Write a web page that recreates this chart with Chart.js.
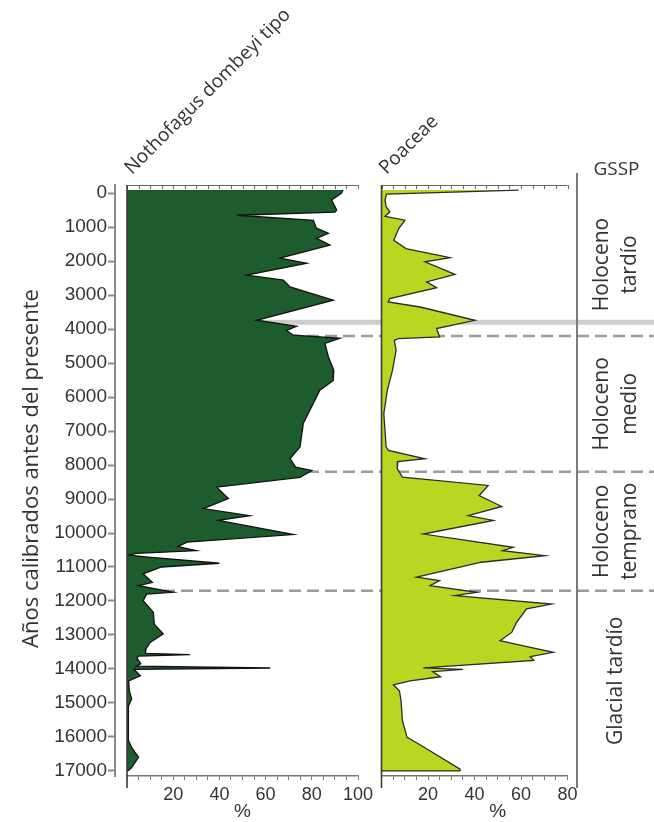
<!DOCTYPE html>
<html>
<head>
<meta charset="utf-8">
<title>Diagrama polínico</title>
<script src="https://cdn.jsdelivr.net/npm/chart.js@4/dist/chart.umd.min.js"></script>
<style>
  html, body { margin: 0; padding: 0; background: #ffffff; }
  canvas { display: block; }
</style>
</head>
<body>
<canvas id="diagram" width="654" height="822"></canvas>
<script>
// Calibrated ages (years BP) and pollen percentages for each taxon
const nothoAge = [-90, 0, 200, 500, 560, 650, 800, 1030, 1180, 1330, 1530, 1915, 2060, 2415, 2560, 2760, 3150, 3740, 3920, 4040, 4180, 4270, 4420, 4820, 5210, 5510, 5800, 6780, 7470, 7810, 8060, 8160, 8360, 8650, 8985, 9280, 9490, 9630, 10045, 10270, 10400, 10520, 10600, 10650, 10700, 10890, 11000, 11200, 11450, 11550, 11745, 11800, 11990, 12330, 12680, 12970, 13220, 13410, 13540, 13580, 13620, 13680, 13850, 13920, 13972, 14010, 14200, 14350, 14640, 14880, 15100, 16100, 16310, 16600, 16900, 17000];
const nothoPct = [93.5, 92.9, 88.6, 90.8, 90, 47.5, 80.7, 82, 87.2, 82.1, 87.9, 66.2, 77.8, 51.8, 67.7, 70.6, 89.3, 56.1, 73.4, 69.1, 72, 92.2, 85.7, 87.2, 89.5, 89.3, 83.5, 76.3, 74.9, 70.6, 73, 80, 74.9, 38.8, 43.9, 33, 53.2, 39.5, 72, 26, 22, 30, 4, 1, 8, 40, 15, 7, 11, 5, 20, 8.5, 7, 11.4, 11.8, 15.7, 10, 8.2, 8, 27.3, 5, 4.3, 6, 4, 62, 3, 5.8, 0.7, 1, 2, 0.6, 0.6, 2, 5, 2, 0.5];

const poaAge = [-90, 30, 200, 400, 550, 680, 795, 1040, 1385, 1630, 1900, 2020, 2390, 2610, 2780, 3100, 3200, 3350, 3740, 3985, 4230, 4280, 4330, 4625, 5215, 5800, 6490, 7470, 7570, 7815, 7900, 8110, 8357, 8600, 8900, 9220, 9490, 9630, 10030, 10420, 10520, 10665, 10860, 11300, 11400, 11550, 11745, 11840, 12090, 12235, 12630, 12925, 13170, 13365, 13510, 13640, 13750, 13970, 14010, 14080, 14230, 14350, 14465, 14640, 14935, 15525, 16015, 16210, 16950, 17000];
const poaPct = [59, 2.2, 1.5, 2, 3.6, 1.5, 10.1, 7.4, 5.3, 10.5, 29.5, 18.7, 31.6, 19.4, 23.7, 3.6, 2.9, 16.6, 40.2, 23.7, 25, 7.2, 5.5, 6.3, 4.7, 2.5, 1, 2, 3, 18.7, 7, 6.8, 9, 45.9, 42, 51.7, 37.3, 48.1, 18, 56.7, 52, 70.3, 43, 15.1, 25, 20.9, 41, 31.6, 73.2, 62.4, 58.1, 56, 51, 64, 73.9, 64, 65.5, 18, 35, 22, 25.4, 12.3, 5.1, 7.7, 8.4, 9, 11, 16, 33.8, 33.8];

// Axis ticks
const ageTicks = [0, 1000, 2000, 3000, 4000, 5000, 6000, 7000, 8000, 9000, 10000, 11000, 12000, 13000, 14000, 15000, 16000, 17000];
const nothoTicks = [0, 5, 10, 15, 20, 25, 30, 35, 40, 45, 50, 55, 60, 65, 70, 75, 80, 85, 90, 95, 100];
const nothoLabelled = [20, 40, 60, 80, 100];
const poaTicks = [0, 5, 10, 15, 20, 25, 30, 35, 40, 45, 50, 55, 60, 65, 70, 75, 80];
const poaLabelled = [20, 40, 60, 80];

// Chronozones and the tephra layer
const zoneEdges = [0, 4200, 8200, 11700, 17000];
const zoneNames = [['Holoceno', 'tardío'], ['Holoceno', 'medio'], ['Holoceno', 'temprano'], ['Glacial tardío']];
const tephraAge = 3800;

const taxa = ['Nothofagus dombeyi tipo', 'Poaceae'];

const SANS = '"Open Sans", "Liberation Sans", sans-serif';
const TICKFONT = '"Liberation Sans", Arial, sans-serif';
const INK = '#333333';

function pts(ages, vals) {
  return ages.map((a, i) => ({ x: vals[i], y: a }));
}

function fixedTicks(list) {
  return (scale) => { scale.ticks = list.map(v => ({ value: v })); };
}

function bottomFit(scale) {
  scale.height = 46;
  scale.paddingLeft = 0;
  scale.paddingRight = 0;
}

const decor = {
  id: 'decor',
  beforeDatasetsDraw(chart) {
    const { ctx, scales } = chart;
    const y = scales.y;
    const x0 = scales.xN.getPixelForValue(0);
    ctx.save();
    // tephra layer
    ctx.strokeStyle = '#cdcdcd';
    ctx.lineWidth = 5;
    const yt = y.getPixelForValue(tephraAge);
    ctx.beginPath();
    ctx.moveTo(x0, yt);
    ctx.lineTo(chart.width, yt);
    ctx.stroke();
    // chronozone boundaries
    ctx.strokeStyle = '#9b9b9b';
    ctx.lineWidth = 2.5;
    ctx.setLineDash([12, 6]);
    zoneEdges.slice(1, -1).forEach(a => {
      const yy = y.getPixelForValue(a);
      ctx.beginPath();
      ctx.moveTo(x0, yy);
      ctx.lineTo(chart.width, yy);
      ctx.stroke();
    });
    ctx.restore();
  },
  afterDatasetsDraw(chart) {
    const { ctx, chartArea, scales } = chart;
    const y = scales.y;
    const panels = [[scales.xN, nothoTicks], [scales.xP, poaTicks]];
    ctx.save();

    // closing edge along the oldest sample of each curve
    chart.data.datasets.forEach((ds, i) => {
      const s = panels[i][0];
      const last = ds.data[ds.data.length - 1];
      const yy = y.getPixelForValue(last.y);
      ctx.strokeStyle = ds.borderColor;
      ctx.lineWidth = ds.borderWidth;
      ctx.beginPath();
      ctx.moveTo(s.getPixelForValue(0), yy);
      ctx.lineTo(s.getPixelForValue(last.x), yy);
      ctx.stroke();
    });

    // top rulers and panel baselines
    panels.forEach(([s, ticks]) => {
      const top = chartArea.top;
      ctx.strokeStyle = '#666';
      ctx.lineWidth = 1;
      ctx.beginPath();
      ctx.moveTo(s.left, top + 0.5);
      ctx.lineTo(s.right, top + 0.5);
      ticks.forEach(v => {
        const px = Math.round(s.getPixelForValue(v)) + 0.5;
        ctx.moveTo(px, top);
        ctx.lineTo(px, top + 4);
      });
      ctx.stroke();

      const bx = s.getPixelForValue(0);
      ctx.strokeStyle = '#3c3c3c';
      ctx.lineWidth = 1.6;
      ctx.beginPath();
      ctx.moveTo(bx, top);
      ctx.lineTo(bx, chartArea.bottom + 12);
      ctx.stroke();
    });

    // zone column divider
    const zx = chartArea.right + 9.5;
    ctx.strokeStyle = '#7a7a7a';
    ctx.lineWidth = 2;
    ctx.beginPath();
    ctx.moveTo(zx, chartArea.top - 12);
    ctx.lineTo(zx, chartArea.bottom + 12);
    ctx.stroke();

    // zone names
    const cx = chartArea.right + 49;
    ctx.fillStyle = INK;
    ctx.font = '21px ' + SANS;
    ctx.textAlign = 'center';
    ctx.textBaseline = 'middle';
    zoneNames.forEach((lines, i) => {
      const cy = y.getPixelForValue((zoneEdges[i] + zoneEdges[i + 1]) / 2);
      ctx.save();
      ctx.translate(cx, cy);
      ctx.rotate(-Math.PI / 2);
      const off = (lines.length - 1) * 14;
      lines.forEach((t, k) => ctx.fillText(t, 0, -off + k * 28));
      ctx.restore();
    });
    ctx.font = '19px ' + SANS;
    ctx.fillText('GSSP', cx, chartArea.top - 15);

    // taxon names
    ctx.font = '19px ' + SANS;
    ctx.textAlign = 'left';
    ctx.textBaseline = 'alphabetic';
    panels.forEach(([s], i) => {
      ctx.save();
      ctx.translate(s.getPixelForValue(0) + 5, chartArea.top - 10);
      ctx.rotate(-Math.PI / 4);
      ctx.fillText(taxa[i], 0, 0);
      ctx.restore();
    });

    // percent captions
    ctx.font = '19px ' + TICKFONT;
    ctx.textAlign = 'center';
    ctx.textBaseline = 'middle';
    panels.forEach(([s]) => ctx.fillText('%', s.getPixelForValue(50), chartArea.bottom + 36));

    // age axis title
    ctx.save();
    ctx.translate(32, (chartArea.top + chartArea.bottom) / 2 - 12);
    ctx.rotate(-Math.PI / 2);
    ctx.font = '22px ' + SANS;
    ctx.fillText('Años calibrados antes del presente', 0, 0);
    ctx.restore();

    ctx.restore();
  }
};

const pctAxis = (weight, order, ticks, labelled) => ({
  type: 'linear',
  axis: 'x',
  position: 'bottom',
  stack: 'panels',
  stackWeight: weight,
  weight: order,
  min: 0,
  max: ticks[ticks.length - 1],
  afterBuildTicks: fixedTicks(ticks),
  afterFit: bottomFit,
  border: { display: true, color: '#777', width: 1.5 },
  grid: { display: true, drawOnChartArea: false, drawTicks: true, tickLength: 4, tickColor: '#777', tickWidth: 1 },
  ticks: {
    autoSkip: false,
    maxRotation: 0,
    padding: 4,
    color: INK,
    font: { family: TICKFONT, size: 18 },
    callback: (v) => labelled.includes(v) ? String(v) : ''
  }
});

const gapAxis = (weight, order) => ({
  type: 'linear',
  axis: 'x',
  position: 'bottom',
  stack: 'panels',
  stackWeight: weight,
  weight: order,
  min: 0,
  max: 1,
  display: false,
  afterFit: bottomFit
});

new Chart(document.getElementById('diagram'), {
  type: 'line',
  data: {
    datasets: [
      {
        label: taxa[0],
        data: pts(nothoAge, nothoPct),
        xAxisID: 'xN',
        yAxisID: 'y',
        fill: 'origin',
        backgroundColor: '#1d5c2d',
        borderColor: '#111111',
        borderWidth: 1.3,
        pointRadius: 0,
        tension: 0
      },
      {
        label: taxa[1],
        data: pts(poaAge, poaPct),
        xAxisID: 'xP',
        yAxisID: 'y',
        fill: 'origin',
        backgroundColor: '#bad620',
        borderColor: '#2b2b2b',
        borderWidth: 1.3,
        pointRadius: 0,
        tension: 0
      }
    ]
  },
  options: {
    responsive: false,
    animation: false,
    events: [],
    indexAxis: 'y',
    layout: { padding: { top: 185, right: 86.5, bottom: 0, left: 0 } },
    plugins: { legend: { display: false }, tooltip: { enabled: false } },
    scales: {
      y: {
        type: 'linear',
        position: 'left',
        reverse: true,
        min: -240,
        max: 17150,
        afterBuildTicks: fixedTicks(ageTicks),
        afterFit: (s) => { s.width = 115; },
        border: { display: true, color: '#8a8a8a', width: 2 },
        grid: { display: true, drawOnChartArea: false, tickLength: 7, tickColor: '#8a8a8a', tickWidth: 2 },
        ticks: {
          padding: 1,
          color: INK,
          font: { family: TICKFONT, size: 19 },
          callback: (v) => String(v)
        }
      },
      g0: gapAxis(12, 0),
      xN: pctAxis(231, 1, nothoTicks, nothoLabelled),
      g1: gapAxis(23.5, 2),
      xP: pctAxis(186, 3, poaTicks, poaLabelled)
    }
  },
  plugins: [decor]
});
</script>
</body>
</html>
